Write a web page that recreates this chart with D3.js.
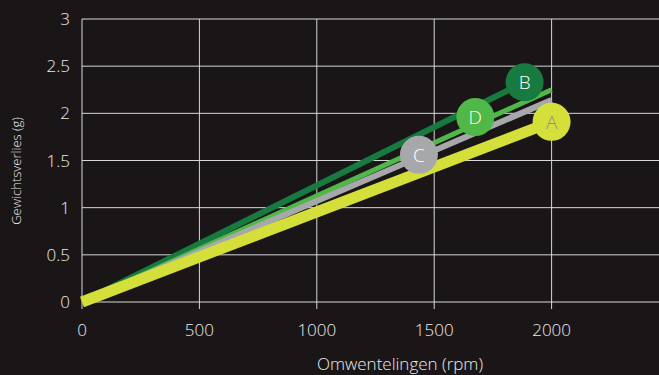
<!DOCTYPE html>
<html><head><meta charset="utf-8">
<script src="https://cdn.jsdelivr.net/npm/d3@7"></script>
<style>html,body{margin:0;padding:0;background:#1a1617;overflow:hidden}</style>
</head><body><svg id="c" width="659" height="375"></svg>
<script>
const xTicks = [0, 500, 1000, 1500, 2000];
const yTicks = [0, 0.5, 1, 1.5, 2, 2.5, 3];
const seriesNames = ["B", "D", "C", "A"];
const seriesX = [[0, 1885], [0, 2000], [0, 2000], [0, 2000]];
const seriesY = [[0, 2.33], [0, 2.25], [0, 2.14], [0, 1.91]];
const markerNames = ["C", "D", "B", "A"];
const markerX = [1435, 1675, 1885, 2000];
const markerY = [1.56, 1.96, 2.33, 1.91];
const colors = {A: "#d5df3a", B: "#177a3f", C: "#a7a8ab", D: "#4fb848"};
const widths = {A: 11, B: 6, C: 6, D: 5};
const markerText = {A: "#8c8c8c", B: "#ffffff", C: "#ffffff", D: "#ffffff"};

const svg = d3.select("#c");
const x = d3.scaleLinear().domain([0, 2500]).range([82, 669]);
const y = d3.scaleLinear().domain([0, 3]).range([302, 19]);
const font = "'Open Sans', Roboto, sans-serif";
const grid = "#d8d8d8";
const txt = "#ececec";

// grid
svg.append("g").selectAll("line").data(yTicks).join("line")
  .attr("x1", 82).attr("x2", 659).attr("y1", d => y(d)).attr("y2", d => y(d))
  .attr("stroke", grid).attr("stroke-width", 1);
svg.append("g").selectAll("line").data(xTicks).join("line")
  .attr("x1", d => x(d)).attr("x2", d => x(d)).attr("y1", y(3)).attr("y2", y(0) + 7)
  .attr("stroke", grid).attr("stroke-width", 1);

// tick labels
svg.append("g").selectAll("text").data(yTicks).join("text")
  .attr("x", 70).attr("y", d => y(d)).attr("dy", "0.36em")
  .attr("text-anchor", "end").attr("fill", txt)
  .attr("font-family", font).attr("font-size", 17).attr("font-weight", 300)
  .text(d => d);
svg.append("g").selectAll("text").data(xTicks).join("text")
  .attr("x", d => x(d)).attr("y", 336)
  .attr("text-anchor", "middle").attr("fill", txt)
  .attr("font-family", font).attr("font-size", 17).attr("font-weight", 300)
  .text(d => d);

svg.append("text").attr("x", 400).attr("y", 370).attr("text-anchor", "middle")
  .attr("fill", txt).attr("font-family", font).attr("font-size", 17).attr("font-weight", 300)
  .text("Omwentelingen (rpm)");
svg.append("text").attr("transform", "translate(21,171) rotate(-90)").attr("text-anchor", "middle")
  .attr("fill", txt).attr("font-family", font).attr("font-size", 13).attr("font-weight", 300)
  .text("Gewichtsverlies (g)");

// lines
const line = d3.line().x(d => x(d[0])).y(d => y(d[1]));
seriesNames.forEach((n, i) => {
  const pts = seriesX[i].map((v, j) => [v, seriesY[i][j]]);
  svg.append("path").attr("d", line(pts)).attr("fill", "none")
    .attr("stroke", colors[n]).attr("stroke-width", widths[n]);
});

// markers
markerNames.forEach((n, i) => {
  const g = svg.append("g").attr("transform", `translate(${x(markerX[i])},${y(markerY[i])})`);
  g.append("circle").attr("r", 19).attr("fill", colors[n]);
  g.append("text").attr("text-anchor", "middle").attr("dy", "0.36em")
    .attr("fill", markerText[n]).attr("font-family", font).attr("font-size", 19).attr("font-weight", 300)
    .text(n);
});
</script></body></html>
